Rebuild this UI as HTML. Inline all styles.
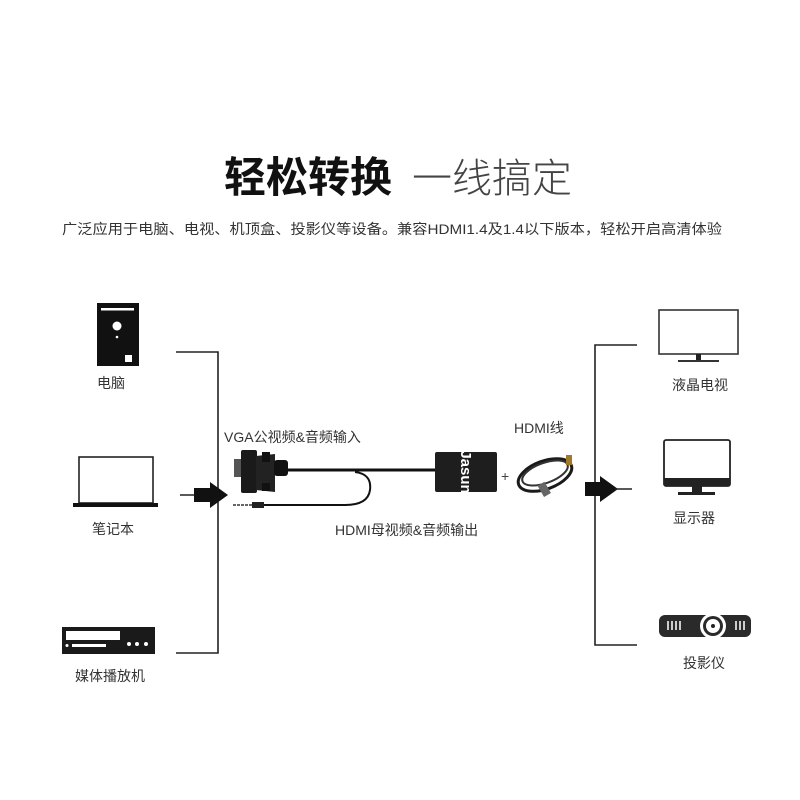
<!DOCTYPE html>
<html><head><meta charset="utf-8"><style>
html,body{margin:0;padding:0;background:#fff;width:800px;height:800px;overflow:hidden}
svg text{font-family:"Liberation Sans","Noto Sans CJK SC",sans-serif}
</style></head><body>
<svg width="800" height="800" viewBox="0 0 800 800" xmlns="http://www.w3.org/2000/svg">
<text x="224" y="192" font-size="42" font-weight="bold" fill="#111">轻松转换</text>
<text x="412" y="192" font-size="40" font-weight="300" fill="#444">一线搞定</text>
<text x="62" y="234" font-size="14" fill="#333" textLength="660" lengthAdjust="spacingAndGlyphs">广泛应用于电脑、电视、机顶盒、投影仪等设备。兼容HDMI1.4及1.4以下版本，轻松开启高清体验</text>

<!-- left bracket -->
<polyline points="176,352 218,352 218,653 176,653" fill="none" stroke="#222" stroke-width="1.6"/>
<line x1="180" y1="495" x2="196" y2="495" stroke="#222" stroke-width="1.5"/>
<polygon points="194,488 210,488 210,482 228,495 210,508 210,502 194,502" fill="#111"/>

<!-- PC -->
<rect x="97" y="303" width="42" height="63" fill="#111"/>
<rect x="101" y="308" width="33" height="2.5" fill="#fff"/>
<circle cx="117" cy="326" r="4.5" fill="#fff"/>
<circle cx="117" cy="337" r="1.3" fill="#fff"/>
<rect x="125" y="355" width="7" height="7" fill="#fff"/>
<text x="97" y="388" font-size="14" fill="#333">电脑</text>

<!-- laptop -->
<rect x="79" y="457" width="74" height="46" fill="#fff" stroke="#222" stroke-width="1.6"/>
<rect x="73" y="503" width="85" height="4" fill="#111"/>
<text x="92" y="534" font-size="14" fill="#333">笔记本</text>

<!-- media player -->
<rect x="62" y="627" width="93" height="27" fill="#1a1a1a"/>
<rect x="66" y="631" width="54" height="9" fill="#fff"/>
<rect x="72" y="644" width="34" height="3" fill="#fff"/>
<circle cx="67" cy="645.5" r="1.5" fill="#fff"/>
<circle cx="129" cy="644" r="2" fill="#fff"/><circle cx="137" cy="644" r="2" fill="#fff"/><circle cx="146" cy="644" r="2" fill="#fff"/>
<text x="75" y="681" font-size="14" fill="#333">媒体播放机</text>

<!-- VGA -->
<text x="224" y="442" font-size="14" fill="#333">VGA公视频&amp;音频输入</text>
<rect x="234" y="459" width="8" height="18" fill="#555"/>
<rect x="241" y="450" width="16" height="43" rx="2" fill="#1a1a1a"/>
<path d="M256 456 L275 454 L275 492 L256 490 Z" fill="#222"/>
<rect x="262" y="452" width="8" height="10" fill="#111"/>
<rect x="262" y="483" width="8" height="8" fill="#111"/>
<rect x="274" y="460" width="14" height="16" rx="3" fill="#111"/>
<line x1="287" y1="470" x2="436" y2="470" stroke="#111" stroke-width="3"/>
<path d="M355 472 Q372 474 370 490 Q368 505 345 505 L250 505" fill="none" stroke="#111" stroke-width="2"/>
<rect x="252" y="502" width="12" height="6" fill="#222"/>
<line x1="233" y1="505" x2="252" y2="505" stroke="#666" stroke-width="2" stroke-dasharray="3,1"/>

<!-- adapter -->
<rect x="435" y="452" width="62" height="40" rx="2" fill="#1e1e1e"/>
<text x="0" y="0" font-size="15" font-weight="bold" fill="#fff" transform="translate(461,472) rotate(90)" text-anchor="middle">Jasun</text>
<text x="501" y="481" font-size="14" fill="#444">+</text>

<!-- HDMI cable -->
<text x="514" y="433" font-size="14" fill="#333">HDMI线</text>
<ellipse cx="545" cy="475" rx="28" ry="14" fill="none" stroke="#1a1a1a" stroke-width="3" transform="rotate(-20 545 475)"/>
<ellipse cx="545" cy="473" rx="24" ry="10" fill="none" stroke="#333" stroke-width="2" transform="rotate(-20 545 473)"/>
<rect x="540" y="483" width="8" height="13" fill="#666" transform="rotate(-30 544 489)"/>
<rect x="566" y="455" width="6" height="10" fill="#a07a2a"/>
<text x="335" y="535" font-size="14" fill="#333">HDMI母视频&amp;音频输出</text>

<!-- right bracket -->
<polyline points="637,345 595,345 595,645 637,645" fill="none" stroke="#222" stroke-width="1.6"/>
<polygon points="585,482 600,482 600,476 618,489 600,502 600,496 585,496" fill="#111"/>
<line x1="615" y1="489" x2="632" y2="489" stroke="#222" stroke-width="1.5"/>

<!-- TV -->
<rect x="659" y="310" width="79" height="44" fill="#fff" stroke="#333" stroke-width="1.6"/>
<rect x="696" y="354" width="5" height="6" fill="#222"/>
<rect x="678" y="360" width="41" height="2" fill="#333"/>
<text x="672" y="390" font-size="14" fill="#333">液晶电视</text>

<!-- monitor -->
<rect x="664" y="440" width="66" height="46" rx="2" fill="#fff" stroke="#222" stroke-width="1.8"/>
<rect x="664" y="478" width="66" height="8" fill="#222"/>
<rect x="692" y="486" width="10" height="6" fill="#222"/>
<rect x="678" y="492" width="37" height="3" fill="#222"/>
<text x="673" y="523" font-size="14" fill="#333">显示器</text>

<!-- projector -->
<rect x="659" y="615" width="92" height="22" rx="6" fill="#2a2a2a"/>
<circle cx="713" cy="626" r="13" fill="#fff"/>
<circle cx="713" cy="626" r="10" fill="#2a2a2a"/>
<circle cx="713" cy="626" r="7" fill="#fff"/>
<circle cx="713" cy="626" r="2" fill="#222"/>
<g fill="#ccc"><rect x="667" y="621" width="2" height="9"/><rect x="671" y="621" width="2" height="9"/><rect x="675" y="621" width="2" height="9"/><rect x="679" y="621" width="2" height="9"/><rect x="735" y="621" width="2" height="9"/><rect x="739" y="621" width="2" height="9"/><rect x="743" y="621" width="2" height="9"/></g>
<text x="683" y="668" font-size="14" fill="#333">投影仪</text>
</svg>
</body></html>
